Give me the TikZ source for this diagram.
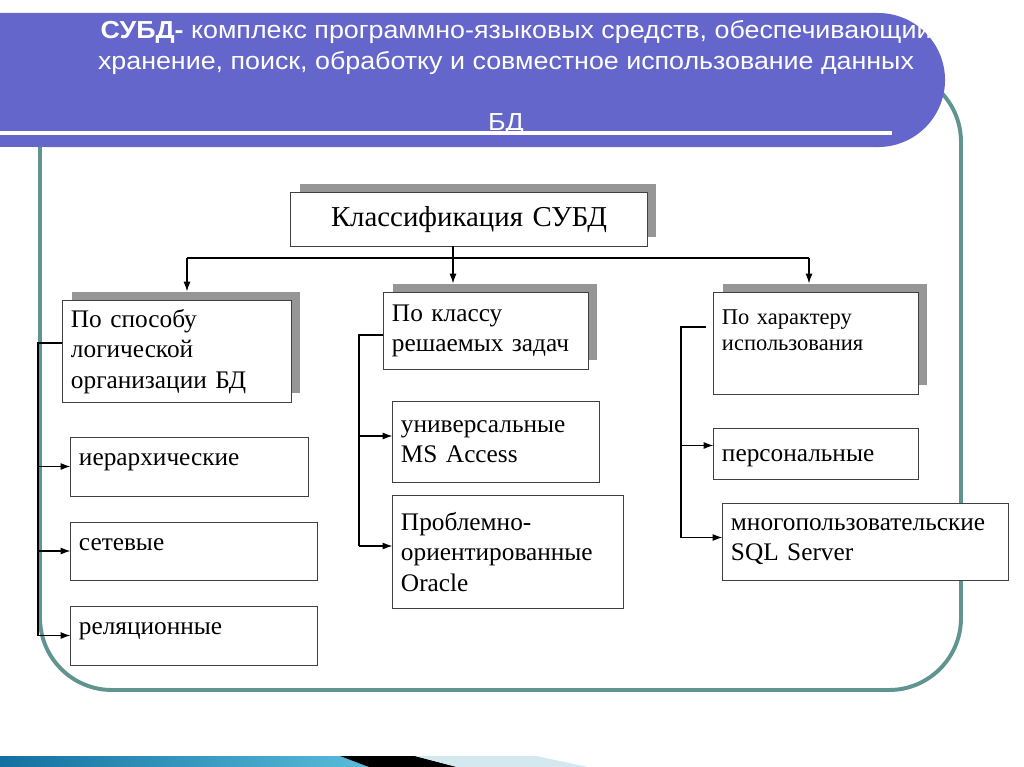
\documentclass[tikz,border=0pt]{standalone}
\usepackage{fontspec}
\setmainfont{Liberation Serif}
\newfontfamily\titlefont{Liberation Sans}
\usepackage{tikz}
\definecolor{band}{RGB}{100,102,204}
\definecolor{frame}{RGB}{95,148,145}
\definecolor{shadowgray}{RGB}{150,150,150}
\definecolor{stripA}{RGB}{20,112,160}
\definecolor{stripB}{RGB}{90,188,218}
\definecolor{stripC}{RGB}{212,232,240}
\usetikzlibrary{shapes.geometric, arrows, arrows.meta, shadows, calc}
\tikzstyle{line} = [draw, line width=0.9pt, -{Latex[length=7pt,width=5pt]}]

\begin{document}
\begin{tikzpicture}[x=0.025cm, y=-0.025cm, thick]
        \tikzstyle{block} = [rectangle, draw=black!75, line width=0.7pt, fill=white,
        align=left, inner xsep=0.2cm, inner ysep=0.1cm,
        font=\fontsize{18}{21.5}\selectfont]
        \tikzstyle{cat} = [block, drop shadow={shadow xshift=0.22cm,
        shadow yshift=0.22cm, fill=shadowgray, opacity=1}]
        \tikzstyle{lift} = [text height=0.45cm, text depth=0.5cm]
        \tikzstyle{head} = [text=white, font=\titlefont\fontsize{17.5}{21}\selectfont]

        \useasboundingbox (0,0) rectangle (1024,767);
        \fill[white] (0,0) rectangle (1024,767);

        % frame and title band
        \draw[frame, line width=2.8pt, rounded corners=1.8cm] (40,70) rectangle (961,690);
        \fill[band] (0,13) -- (878,13) arc[start angle=90, end angle=-90, radius=1.675cm]
            -- (0,147) -- cycle;
        \draw[white, line width=2.2pt] (0,133) -- (892,133);
        \node [head] (title1) at (516,32)
            {\scalebox{1.09}[1]{\textbf{СУБД-} комплекс программно-языковых средств, обеспечивающий}};
        \node [head] (title2) at (506,63)
            {\scalebox{1.09}[1]{хранение, поиск, обработку и совместное использование данных}};
        \node [head] (title3) at (506,124) {\scalebox{1.09}[1]{БД}};

        % bottom strip
        \shade[left color=stripA, right color=stripB] (0,756) -- (340,756) -- (369,767) -- (0,767) -- cycle;
        \fill[black] (340,756) -- (415,756) -- (457,767) -- (369,767) -- cycle;
        \fill[stripC] (415,756) -- (536,756) -- (588,767) -- (457,767) -- cycle;

        % boxes
        \node [cat, align=center, text width=8.5cm, minimum height=1.325cm,
            font=\fontsize{20.5}{24}\selectfont] (root) at (469,219.5) {Классификация СУБД};

        \node [cat, text width=5.3cm, minimum height=2.525cm] (logic) at (177,351.5)
            {По способу\\логической\\организации БД};
        \node [cat, text width=4.7cm, minimum height=1.9cm] (task) at (486,331)
            {По классу\\решаемых задач};
        \node [cat, text width=4.7cm, minimum height=2.525cm,
            font=\fontsize{16}{19}\selectfont] (usage) at (816,343.5)
            {По характеру\\использования\\\mbox{}};

        \node [block, lift, text width=5.525cm, minimum height=1.475cm] (hier) at (189.5,466.5) {иерархические};
        \node [block, lift, text width=5.75cm, minimum height=1.45cm] (net) at (194,551) {сетевые};
        \node [block, lift, text width=5.75cm, minimum height=1.475cm] (rel) at (194,635.5) {реляционные};

        \node [block, text width=4.75cm, minimum height=2cm] (univ) at (496,442)
            {универсальные\\MS Access};
        \node [block, text width=5.35cm, minimum height=2.8cm] (prob) at (508,552)
            {Проблемно-\\ориентированные\\Oracle};

        \node [block, text height=0.6cm, text depth=0.2cm, text width=4.7cm,
            minimum height=1.275cm] (pers) at (816,453.5) {персональные};
        \node [block, text width=6.725cm, minimum height=1.925cm] (multi) at (865.5,541.5)
            {многопользовательские\\SQL Server};

        % top level
        \coordinate (fork1) at (187,258);
        \coordinate (fork2) at (453,258);
        \coordinate (fork3) at (809,258);
        \draw [line] (root.south -| fork2) -- ($(task.north -| fork2)+(0,-9)$);
        \draw [line width=0.9pt] (fork1) -- (fork3);
        \draw [line] (fork1) -- ($(logic.north -| fork1)+(0,-9)$);
        \draw [line] (fork3) -- ($(usage.north -| fork3)+(0,-9)$);

        % left column
        \coordinate (lbus) at (38,343);
        \draw [line width=0.9pt] (logic.west |- lbus) -- (lbus) -- (lbus |- rel.west);
        \draw [line] (lbus |- hier.west) -- (hier.west);
        \draw [line] (lbus |- net.west) -- (net.west);
        \draw [line] (lbus |- rel.west) -- (rel.west);

        % middle column
        \coordinate (mbus) at (359,335);
        \coordinate (m1) at ($(univ.west)+(0,-6)$);
        \coordinate (m2) at ($(prob.west)+(0,-6)$);
        \draw [line width=0.9pt] (task.west |- mbus) -- (mbus) -- (mbus |- m2);
        \draw [line] (mbus |- m1) -- (m1);
        \draw [line] (mbus |- m2) -- (m2);

        % right column
        \coordinate (rstart) at (706,327);
        \coordinate (rbus) at (681,327);
        \coordinate (r1) at ($(pers.west)+(0,-8)$);
        \coordinate (r2) at ($(multi.west)+(0,-4)$);
        \draw [line width=0.9pt] (rstart) -- (rbus) -- (rbus |- r2);
        \draw [line] (rbus |- r1) -- (r1);
        \draw [line] (rbus |- r2) -- (r2);
\end{tikzpicture}
\end{document}
